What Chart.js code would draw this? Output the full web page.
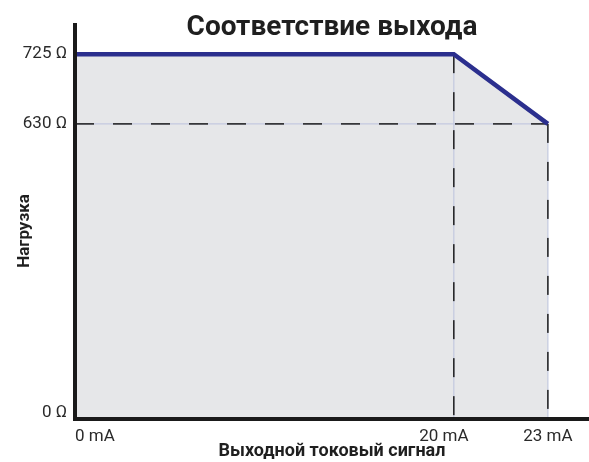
<!DOCTYPE html>
<html>
<head>
<meta charset="utf-8">
<script src="https://cdn.jsdelivr.net/npm/chart.js@4"></script>
<style>
html,body{margin:0;padding:0;background:#fff;}
canvas{display:block;}
</style>
</head>
<body>
<canvas id="c" width="589" height="462"></canvas>
<script>
// ---- data ----
const currents = [0, 20, 23];          // mA
const loads = [725, 725, 630];         // Ω
const xTickValues = [0, 20, 23];
const yTickValues = [0, 630, 725];
const xUnit = 'mA';
const yUnit = 'Ω';
const chartTitle = 'Соответствие выхода';
const xTitle = 'Выходной токовый сигнал';
const yTitle = 'Нагрузка';

// ---- piecewise (schematic) scale ----
class PiecewiseScale extends Chart.LinearScale {
  _frac(v) {
    const s = this.options.stops, f = this.options.fractions;
    for (let i = 1; i < s.length; i++) {
      if (v <= s[i] || i === s.length - 1) {
        return f[i - 1] + (v - s[i - 1]) / (s[i] - s[i - 1]) * (f[i] - f[i - 1]);
      }
    }
    return 0;
  }
  getPixelForValue(v) {
    if (v === null || v === undefined || isNaN(v)) return NaN;
    return this.getPixelForDecimal(this._frac(v));
  }
  getValueForPixel(p) {
    const d = this.getDecimalForPixel(p);
    const s = this.options.stops, f = this.options.fractions;
    for (let i = 1; i < f.length; i++) {
      if (d <= f[i] || i === f.length - 1) {
        return s[i - 1] + (d - f[i - 1]) / (f[i] - f[i - 1]) * (s[i] - s[i - 1]);
      }
    }
    return 0;
  }
  _computeLabelItems(chartArea) {
    const items = super._computeLabelItems(chartArea);
    const aligns = this.options.labelAligns || [];
    const shifts = this.options.labelShifts || [];
    items.forEach((it, i) => {
      if (aligns[i]) it.options.textAlign = aligns[i];
      if (shifts[i]) {
        const t = it.options.translation;
        it.options.translation = this.isHorizontal() ? [t[0] + shifts[i], t[1]] : [t[0], t[1] + shifts[i]];
      }
    });
    return items;
  }
}
PiecewiseScale.id = 'piecewise';
PiecewiseScale.defaults = Chart.LinearScale.defaults;
Chart.register(PiecewiseScale);

// ---- datasets built from the arrays ----
const mainPts = currents.map((x, i) => ({x, y: loads[i]}));
const guides = [
  [{x: currents[1], y: loads[1]}, {x: currents[1], y: 0}],
  [{x: 0, y: loads[2]}, {x: currents[2], y: loads[2]}],
  [{x: currents[2], y: loads[2]}, {x: currents[2], y: 0}]
];
const guideSets = [];
guides.forEach(g => {
  guideSets.push({data: g, borderColor: '#1e1e1e', borderWidth: 1.5, borderDash: [19, 19], pointRadius: 0, fill: false});
});
guides.forEach(g => {
  guideSets.push({data: g, borderColor: '#c3c9df', borderWidth: 1.2, pointRadius: 0, fill: false});
});

const titlePlugin = {
  id: 'mainTitle',
  afterDraw(chart) {
    const {ctx, chartArea} = chart;
    ctx.save();
    ctx.font = 'bold 28px Roboto';
    ctx.fillStyle = '#1f1f1f';
    ctx.textAlign = 'center';
    ctx.textBaseline = 'alphabetic';
    ctx.fillText(chartTitle, (chartArea.left + chartArea.right) / 2, 35);
    ctx.translate(25, 231);
    ctx.rotate(-Math.PI / 2);
    ctx.font = 'bold 17px Roboto';
    ctx.textBaseline = 'middle';
    ctx.fillText(yTitle, 0, 0);
    ctx.restore();
  }
};

const tickFont = {family: 'Roboto', size: 17};
new Chart(document.getElementById('c'), {
  type: 'line',
  data: {
    datasets: [
      {data: mainPts, borderColor: '#2b2f8e', borderWidth: 4.5, pointRadius: 0, fill: 'origin',
       backgroundColor: '#e6e7e9', tension: 0, borderJoinStyle: 'miter'},
      ...guideSets
    ]
  },
  options: {
    responsive: false,
    animation: false,
    layout: {padding: {top: 25, left: 0, right: 0, bottom: 0}},
    plugins: {
      legend: {display: false},
      tooltip: {enabled: false},
      filler: {drawTime: 'beforeDatasetsDraw'}
    },
    scales: {
      x: {
        type: 'piecewise', position: 'bottom', min: 0, max: 26,
        stops: [0, 20, 23, 26], fractions: [0, 0.737, 0.920, 1],
        labelAligns: ['left'], labelShifts: [0, -10, 0],
        grid: {display: false, drawTicks: false},
        border: {display: true, color: '#1a1a1a', width: 4, z: 1},
        ticks: {font: tickFont, color: '#2a2a2a', padding: 8, maxRotation: 0, autoSkip: false,
                callback: v => v + ' ' + xUnit},
        afterBuildTicks: s => { s.ticks = xTickValues.map(v => ({value: v})); },
        title: {display: true, text: xTitle, color: '#1f1f1f',
                font: {family: 'Roboto', size: 18, weight: 'bold'}, padding: {top: 0, bottom: 0}},
        afterFit: s => { s.height = 43; }
      },
      y: {
        type: 'piecewise', position: 'left', min: 0, max: 800,
        stops: [0, 630, 725, 800], fractions: [0, 0.749, 0.926, 1],
        labelShifts: [-6, 0, 0],
        grid: {display: false, drawTicks: false},
        border: {display: true, color: '#1a1a1a', width: 4, z: 1},
        ticks: {font: tickFont, color: '#2a2a2a', padding: 8, autoSkip: false,
                callback: v => v + ' ' + yUnit},
        afterBuildTicks: s => { s.ticks = yTickValues.map(v => ({value: v})); },
        title: {display: false},
        afterFit: s => { s.width = 75; }
      }
    }
  },
  plugins: [titlePlugin]
});
</script>
</body>
</html>
